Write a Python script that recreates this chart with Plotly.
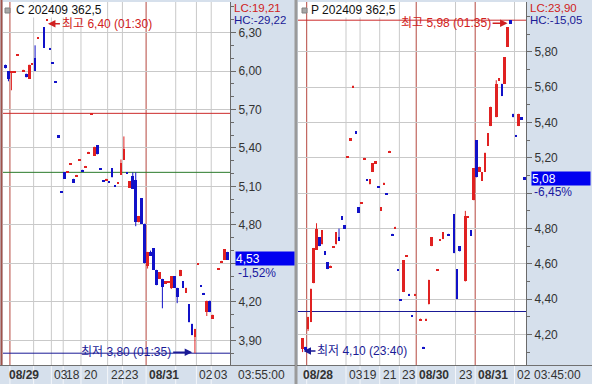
import plotly.graph_objects as go

W, H = 592, 384

# ---------------- Data: C 202409 362.5 (left) ----------------
c_idx = [0, 1, 2, 3, 4, 6, 7, 8, 9, 10, 11, 13, 14, 15, 16, 17, 18, 19, 20, 21, 22, 23, 24, 25,
         26, 27, 28, 29, 30, 31, 32, 33, 34, 35, 36, 37, 38, 39, 40, 41, 42, 43, 44, 45, 46, 47,
         48, 49, 50, 51, 52, 53, 54, 55, 56, 57, 58, 59, 60, 61, 62, 63, 64, 65, 66, 67, 68, 69,
         70, 72, 73, 74, 75]
c_open = [6.05, 6.00, 5.99, 5.99, 6.12, 6.00, 5.98, 5.94, 6.05, 6.10, 6.25, 6.34, 6.39, 6.18, 6.07,
          5.92, 5.50, 5.06, 5.21, 5.21, 5.27, 5.16, 5.18, 5.30, 5.23, 5.25, 5.36, 5.66, 5.34, 5.42,
          5.24, 5.15, 5.15, 5.14, 5.24, 5.11, 5.12, 5.19, 5.31, 5.21, 5.09, 5.18, 5.15, 4.82, 5.01,
          4.81, 4.48, 4.59, 4.62, 4.45, 4.38, 4.38, 4.34, 4.35, 4.31, 4.40, 4.31, 4.40, 4.36, 4.27,
          4.18, 4.03, 3.93, 4.49, 4.33, 4.27, 4.12, 4.21, 4.07, 4.45, 4.51, 4.53, 4.59]
c_high = [6.05, 6.00, 6.00, 6.00, 6.13, 6.01, 5.98, 6.05, 6.06, 6.20, 6.26, 6.34, 6.40, 6.18, 6.07,
          5.92, 5.50, 5.06, 5.21, 5.22, 5.28, 5.16, 5.19, 5.31, 5.23, 5.26, 5.37, 5.67, 5.41, 5.42,
          5.24, 5.15, 5.16, 5.14, 5.24, 5.11, 5.13, 5.31, 5.49, 5.21, 5.14, 5.21, 5.21, 4.87, 5.01,
          4.81, 4.59, 4.60, 4.62, 4.45, 4.43, 4.38, 4.36, 4.36, 4.40, 4.40, 4.31, 4.45, 4.36, 4.31,
          4.18, 4.03, 3.99, 4.50, 4.33, 4.27, 4.21, 4.21, 4.10, 4.46, 4.52, 4.61, 4.59]
c_low = [6.02, 5.92, 5.85, 5.99, 6.12, 6.00, 5.95, 5.94, 6.05, 6.00, 6.25, 6.18, 6.39, 6.17, 6.06,
         5.91, 5.48, 5.05, 5.16, 5.21, 5.27, 5.13, 5.18, 5.30, 5.22, 5.25, 5.36, 5.66, 5.34, 5.35,
         5.23, 5.14, 5.15, 5.13, 5.17, 5.10, 5.12, 5.19, 5.31, 5.20, 5.09, 5.08, 4.79, 4.82, 4.81,
         4.50, 4.46, 4.56, 4.45, 4.33, 4.38, 4.15, 4.34, 4.35, 4.30, 4.31, 4.19, 4.40, 4.31, 4.27,
         4.04, 3.94, 3.80, 4.49, 4.32, 4.26, 4.09, 4.12, 4.07, 4.45, 4.51, 4.53, 4.53]
c_close = [6.02, 5.94, 6.00, 6.00, 6.13, 6.01, 5.95, 6.05, 6.06, 6.00, 6.26, 6.18, 6.40, 6.17, 6.06,
           5.91, 5.48, 5.05, 5.16, 5.22, 5.28, 5.13, 5.19, 5.31, 5.22, 5.26, 5.37, 5.67, 5.41, 5.35,
           5.23, 5.14, 5.16, 5.13, 5.17, 5.10, 5.13, 5.28, 5.39, 5.20, 5.14, 5.08, 4.82, 4.87, 4.81,
           4.50, 4.59, 4.56, 4.45, 4.33, 4.43, 4.32, 4.36, 4.36, 4.40, 4.31, 4.24, 4.45, 4.31, 4.31,
           4.04, 3.94, 3.99, 4.50, 4.32, 4.26, 4.21, 4.12, 4.10, 4.46, 4.52, 4.61, 4.53]
c_day_breaks = [1.5, 47.5]
c_grid_breaks = [9.5, 15.5, 19.5, 25.5, 34.5, 39.5, 57.5, 64.5, 69.5]
c_tick_pos = [1.5, 15.5, 19.5, 25.5, 34.5, 39.5, 47.5, 64.5, 69.5]
c_tick_txt = ["08/29", "03", "18", "20", "22", "23", "08/31", "02", "03"]
c_yticks = [3.90, 4.20, 4.50, 4.80, 5.10, 5.40, 5.70, 6.00, 6.30]
c_lines = {"red": 5.67, "green": 5.21, "navy": 3.80}
c_last, c_pct = 4.53, "-1,52%"
c_lc, c_hc = "LC:19,21", "HC:-29,22"

# ---------------- Data: P 202409 362.5 (right) ----------------
p_idx = [0, 1, 2, 3, 4, 5, 6, 7, 8, 9, 10, 11, 12, 13, 14, 15, 16, 17, 18, 19, 20, 21, 22, 23, 24,
         25, 26, 27, 28, 29, 30, 31, 32, 33, 34, 35, 36, 37, 38, 39, 40, 42, 43, 44, 45, 46, 48,
         49, 50, 52, 54, 55, 56, 58, 59, 60, 61, 62, 63, 64, 65, 66, 67, 69, 70, 71, 72, 73, 74,
         75, 76, 77, 78, 79]
p_open = [4.12, 4.13, 4.23, 4.27, 4.49, 4.68, 4.75, 4.71, 4.67, 4.61, 4.58, 4.69, 4.71, 4.75, 4.87,
          4.82, 5.20, 5.30, 5.60, 5.35, 4.92, 4.94, 5.19, 5.08, 5.05, 5.12, 5.17, 5.04, 4.90, 5.05,
          5.00, 5.23, 4.77, 4.80, 4.57, 4.40, 4.44, 4.64, 4.43, 4.31, 4.42, 4.28, 4.13, 4.28, 4.37,
          4.70, 4.56, 4.73, 4.74, 4.77, 4.88, 4.57, 4.70, 4.50, 4.86, 4.79, 4.96, 5.30, 5.12, 5.07,
          5.12, 5.27, 5.38, 5.43, 5.64, 5.62, 5.62, 5.83, 5.98, 5.45, 5.33, 5.38, 5.43, 5.09]
p_high = [4.18, 4.13, 4.30, 4.46, 4.69, 4.83, 4.75, 4.79, 4.67, 4.61, 4.59, 4.70, 4.78, 4.80, 4.87,
          4.82, 5.21, 5.31, 5.61, 5.35, 4.92, 4.95, 5.20, 5.08, 5.08, 5.17, 5.18, 5.04, 4.92, 5.06,
          5.00, 5.24, 4.77, 4.81, 4.57, 4.40, 4.62, 4.65, 4.43, 4.31, 4.43, 4.29, 4.13, 4.29, 4.51,
          4.75, 4.57, 4.74, 4.78, 4.77, 4.88, 4.57, 4.70, 4.90, 4.87, 4.79, 5.14, 5.30, 5.15, 5.12,
          5.23, 5.34, 5.49, 5.64, 5.65, 5.62, 5.77, 5.94, 5.98, 5.45, 5.33, 5.45, 5.43, 5.09]
p_low = [4.10, 4.11, 4.22, 4.27, 4.49, 4.68, 4.70, 4.71, 4.65, 4.57, 4.58, 4.69, 4.71, 4.73, 4.85,
         4.80, 5.20, 5.30, 5.60, 5.34, 4.89, 4.94, 5.19, 5.07, 5.05, 5.12, 5.17, 5.03, 4.90, 5.05,
         4.99, 5.23, 4.76, 4.80, 4.56, 4.39, 4.44, 4.64, 4.42, 4.30, 4.42, 4.28, 4.12, 4.28, 4.37,
         4.70, 4.56, 4.73, 4.74, 4.76, 4.66, 4.40, 4.67, 4.50, 4.86, 4.76, 4.96, 5.09, 5.12, 5.07,
         5.12, 5.27, 5.38, 5.43, 5.64, 5.55, 5.62, 5.83, 5.96, 5.43, 5.32, 5.38, 5.42, 5.08]
p_close = [4.18, 4.11, 4.30, 4.46, 4.69, 4.80, 4.70, 4.79, 4.65, 4.57, 4.59, 4.70, 4.78, 4.73, 4.85,
           4.80, 5.21, 5.31, 5.61, 5.34, 4.89, 4.95, 5.20, 5.07, 5.08, 5.17, 5.18, 5.03, 4.92, 5.06,
           4.99, 5.24, 4.76, 4.81, 4.56, 4.39, 4.62, 4.65, 4.42, 4.30, 4.43, 4.29, 4.12, 4.29, 4.51,
           4.75, 4.57, 4.74, 4.78, 4.76, 4.66, 4.40, 4.67, 4.87, 4.87, 4.76, 5.14, 5.09, 5.15, 5.12,
           5.23, 5.34, 5.49, 5.62, 5.65, 5.55, 5.77, 5.94, 5.96, 5.43, 5.32, 5.45, 5.42, 5.08]
p_day_breaks = [1.5, 40.5, 61.5]
p_grid_breaks = [15.5, 20.5, 27.5, 34.5, 54.5, 75.5]
p_tick_pos = [1.5, 15.5, 20.5, 27.5, 34.5, 40.5, 54.5, 61.5, 75.5]
p_tick_txt = ["08/28", "03", "19", "21", "23", "08/30", "23", "08/31", "02"]
p_yticks = [4.20, 4.40, 4.60, 4.80, 5.00, 5.20, 5.40, 5.60, 5.80]
p_lines = {"red": 5.98, "navy": 4.33}
p_last, p_pct = 5.08, "-6,45%"
p_lc, p_hc = "LC:23,90", "HC:-15,05"

# ---------------- Styles ----------------
UP = "#e02222"
DOWN = "#1212c8"
DAYC = "#b5473f"
GRIDC = "#c9c9c9"
PANEL = "#d6e0ec"
NAVY = "#1a1a96"
FONT = "Liberation Sans, Arial, Noto Sans CJK KR, sans-serif"


def fmt(v):
    return f"{v:.2f}".replace(".", ",")


fig = go.Figure()


def add_candles(xa, ya, idx, o, h, l, c):
    for color, pick in ((UP, lambda a, b: b > a), (DOWN, lambda a, b: b <= a)):
        xs, base, hgt, wx, wy = [], [], [], [], []
        for i, oo, hh, ll, cc in zip(idx, o, h, l, c):
            if not pick(oo, cc):
                continue
            xs.append(i)
            base.append(min(oo, cc))
            hgt.append(abs(cc - oo))
            wx += [i, i, None]
            wy += [ll, hh, None]
        fig.add_trace(go.Scatter(x=wx, y=wy, mode="lines", line=dict(color=color, width=1),
                                 xaxis=xa, yaxis=ya, hoverinfo="skip", showlegend=False))
        fig.add_trace(go.Bar(x=xs, y=hgt, base=base, width=0.92, marker_color=color,
                             marker_line_width=0, xaxis=xa, yaxis=ya, showlegend=False))


add_candles("x", "y", c_idx, c_open, c_high, c_low, c_close)
add_candles("x2", "y2", p_idx, p_open, p_high, p_low, p_close)


def px(x):
    return x / W


def py(y):
    return 1 - y / H


L_X0, L_X1 = 3, 230
R_X0, R_X1 = 298, 526
Y_TOP, Y_BOT = 2, 365

shapes = []
annotations = []


def panel(xa, ya, day_breaks, grid_breaks, tick_pos, tick_txt, hlines, last, pct, lc, hc,
          title, x_axis_px, x_end_px, clock, first_shift):
    for g in grid_breaks:
        shapes.append(dict(type="line", xref=xa, yref=f"{ya} domain", x0=g, x1=g, y0=0, y1=1,
                           line=dict(color=GRIDC, width=1), layer="below"))
        shapes.append(dict(type="line", xref=xa, yref="paper", x0=g, x1=g, y0=0, y1=py(Y_BOT),
                           line=dict(color="#f4f6fa", width=1)))
    for d in day_breaks:
        shapes.append(dict(type="line", xref=xa, yref=f"{ya} domain", x0=d, x1=d, y0=0, y1=1,
                           line=dict(color=DAYC, width=1), layer="below"))
        shapes.append(dict(type="line", xref=xa, yref="paper", x0=d, x1=d, y0=0, y1=py(Y_BOT),
                           line=dict(color="#f4f6fa", width=1)))
    for name, v in hlines.items():
        col = {"red": "#cc2a2a", "green": "#2a7a2a", "navy": NAVY}[name]
        shapes.append(dict(type="line", xref=f"{xa} domain", yref=ya, x0=0, x1=1, y0=v, y1=v,
                           line=dict(color=col, width=1), layer="below"))
    for k, (p, t) in enumerate(zip(tick_pos, tick_txt)):
        bold = "/" in t
        annotations.append(dict(xref=xa, yref="paper", x=p, y=py(375), xanchor="left",
                                yanchor="middle", showarrow=False,
                                xshift=(first_shift if k == 0 else 1),
                                text=f"<b>{t}</b>" if bold else t,
                                font=dict(family=FONT, size=12, color="#333333")))
    annotations.append(dict(xref="paper", yref="paper", x=px(x_axis_px + 31), y=py(375),
                            xanchor="center", yanchor="middle", showarrow=False, text=clock,
                            font=dict(family=FONT, size=12, color="#333333")))
    annotations.append(dict(xref="paper", yref=ya, x=px(x_axis_px + 5), y=last, yshift=1,
                            xanchor="left", yanchor="middle", showarrow=False,
                            text=fmt(last) + "&nbsp;" * 9, bgcolor="#0000f0",
                            font=dict(family=FONT, size=12, color="white"), borderpad=0,
                            width=x_end_px - x_axis_px - 6, height=13, align="left"))
    annotations.append(dict(xref="paper", yref=ya, x=px(x_axis_px + 6), y=last, yshift=-13,
                            xanchor="left", yanchor="middle", showarrow=False, text=pct,
                            font=dict(family=FONT, size=12, color="#1a1aa0")))
    annotations.append(dict(xref="paper", yref="paper", x=px(x_axis_px + 2), y=py(8.5),
                            xanchor="left", yanchor="middle", showarrow=False, text=lc,
                            height=12, font=dict(family=FONT, size=11.5, color="#d02020")))
    annotations.append(dict(xref="paper", yref="paper", x=px(x_axis_px + 2), y=py(20.5),
                            xanchor="left", yanchor="middle", showarrow=False, text=hc,
                            height=12, font=dict(family=FONT, size=11.5, color=NAVY)))
    annotations.append(dict(xref=f"{xa} domain", yref="paper", x=0, xshift=12, y=py(9.5),
                            xanchor="left", yanchor="middle", showarrow=False, text=title,
                            bgcolor="white", borderpad=0, height=14,
                            font=dict(family=FONT, size=12, color="#111111")))


panel("x", "y", c_day_breaks, c_grid_breaks, c_tick_pos, c_tick_txt, c_lines, c_last, c_pct,
      c_lc, c_hc, "C 202409 362,5", L_X1, 294, "03:55:00", -3)
panel("x2", "y2", p_day_breaks, p_grid_breaks, p_tick_pos, p_tick_txt, p_lines, p_last, p_pct,
      p_lc, p_hc, "P 202409 362,5", R_X1, 590, "03:45:00", -6)

for x0 in (5, 302):
    shapes.append(dict(type="rect", xref="paper", yref="paper", x0=px(x0), x1=px(x0 + 5),
                       y0=py(13), y1=py(8), fillcolor="#a8a8a8", line=dict(color="#808080", width=1)))


def mark(xa, ya, x, y, text, color, side, arrow_len, yshift):
    right = side == "right"
    annotations.append(dict(xref=xa, yref=ya, x=x, y=y, ax=(arrow_len if right else -arrow_len),
                            ay=0, yshift=yshift,
                            xanchor=("left" if right else "right"), yanchor="middle",
                            showarrow=True, arrowhead=2, arrowsize=1, arrowwidth=1.5,
                            arrowcolor=color, text=text, standoff=1,
                            font=dict(family=FONT, size=12, color=color)))


ci_max = c_high.index(max(c_high))
ci_min = c_low.index(min(c_low))
pi_max = p_high.index(max(p_high))
pi_min = p_low.index(min(p_low))
mark("x", "y", c_idx[ci_max], max(c_high), f"최고 {fmt(max(c_high))} (01:30)", "#d02020",
     "right", 13, -4)
mark("x", "y", c_idx[ci_min] - 0.6, min(c_low), f"최저 {fmt(min(c_low))} (01:35)", NAVY,
     "left", 20, 1)
mark("x2", "y2", p_idx[pi_max] - 0.6, max(p_high), f"최고 {fmt(max(p_high))} (01:35)", "#d02020",
     "left", 16, -3)
mark("x2", "y2", p_idx[pi_min], min(p_low), f"최저 {fmt(min(p_low))} (23:40)", NAVY,
     "right", 13, 1)

shapes.append(dict(type="line", xref="paper", yref="paper", x0=px(1.5), x1=px(1.5), y0=py(Y_BOT),
                   y1=1, line=dict(color="#a0524a", width=2)))
shapes.append(dict(type="rect", xref="paper", yref="paper", x0=px(294.5), x1=px(297.5), y0=0,
                   y1=1, fillcolor="#9a9a9a", line=dict(width=0)))
for x0, x1 in ((0, 295), (297, 592)):
    shapes.append(dict(type="line", xref="paper", yref="paper", x0=px(x0), x1=px(x1),
                       y0=py(Y_BOT + 0.5), y1=py(Y_BOT + 0.5), line=dict(color="#707070", width=1)))


def yaxis(rng, ticks, anchor, hide):
    txt = ["" if v in hide else fmt(v) for v in ticks]
    return dict(domain=[py(Y_BOT), py(Y_TOP)], range=rng, anchor=anchor, side="right",
                tickvals=ticks, ticktext=txt, showgrid=True, gridcolor=GRIDC, gridwidth=1,
                zeroline=False, showline=True, linecolor="#6a6a6a", linewidth=1,
                ticks="outside", ticklen=5, tickcolor="#6a6a6a",
                tickfont=dict(family=FONT, size=12, color="#333333"),
                minor=dict(dtick=0.1, tick0=0, ticks="outside", ticklen=3, tickcolor="#6a6a6a",
                           showgrid=False),
                fixedrange=True)


fig.update_layout(
    width=W, height=H, margin=dict(l=0, r=0, t=0, b=0),
    paper_bgcolor=PANEL, plot_bgcolor="white",
    barmode="overlay", bargap=0, showlegend=False,
    font=dict(family=FONT, size=12),
    xaxis=dict(domain=[px(L_X0), px(L_X1)], range=[-0.84, 75.84], anchor="y",
               showticklabels=False, showgrid=False, zeroline=False, ticks="", fixedrange=True),
    yaxis=yaxis([3.708, 6.538], c_yticks, "x", [4.50]),
    xaxis2=dict(domain=[px(R_X0), px(R_X1)], range=[-1.6, 79.6], anchor="y2",
                showticklabels=False, showgrid=False, zeroline=False, ticks="", fixedrange=True),
    yaxis2=yaxis([4.027, 6.083], p_yticks, "x2", [5.00]),
    shapes=shapes, annotations=annotations,
)

fig.write_html("out.html")
